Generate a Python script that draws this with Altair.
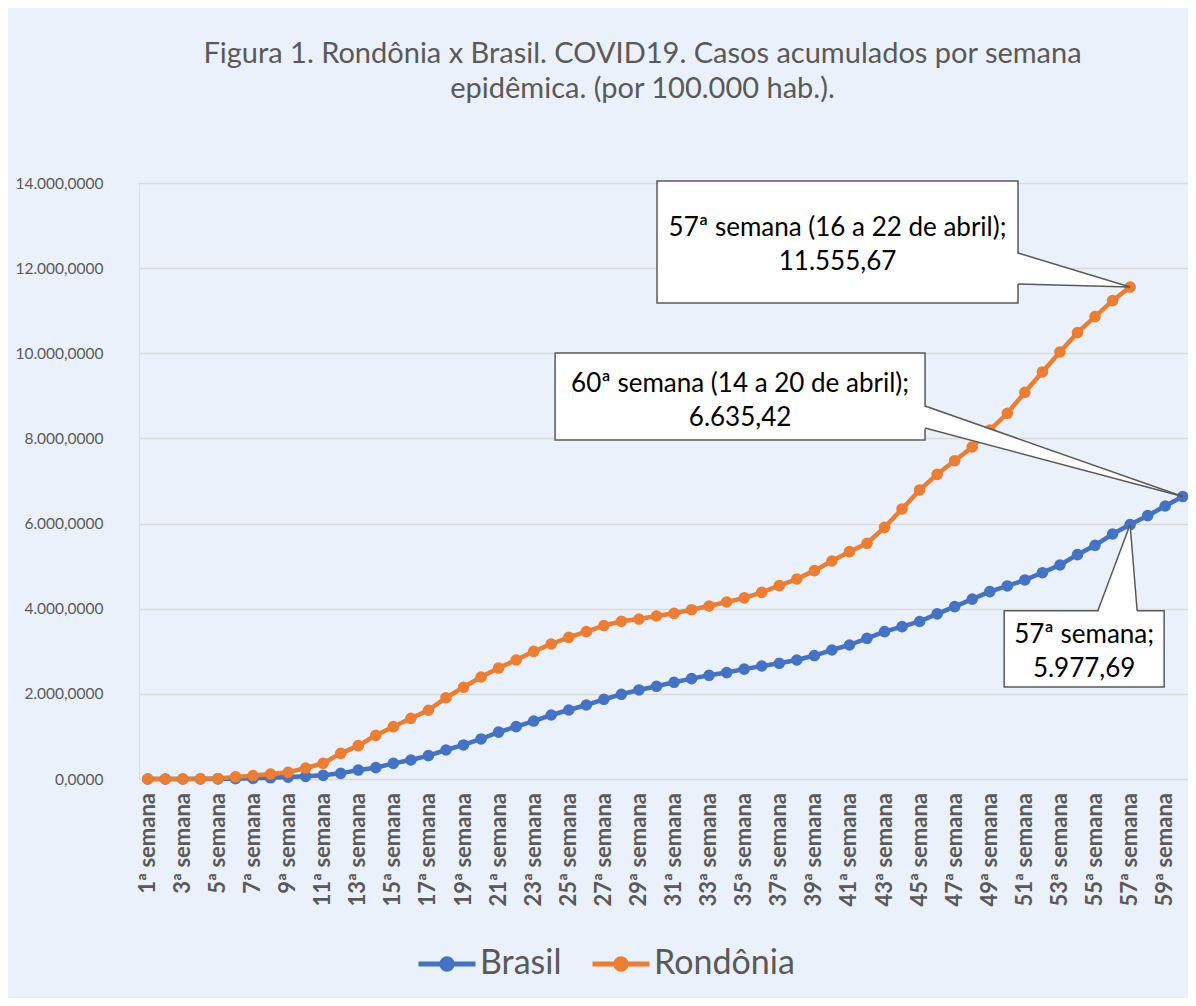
import altair as alt
import pandas as pd

# ---- data ----
series_names = ["Brasil", "Rondônia"]
series_colors = ["#4472C4", "#ED7D31"]

brasil = [0, 0, 0, 1, 3, 8, 15, 28, 45, 62,
          86, 133, 211, 266, 368, 446, 548, 681, 800, 940,
          1100, 1229, 1362, 1503, 1621, 1738, 1872, 1990, 2091, 2178,
          2272, 2357, 2436, 2500, 2580, 2654, 2718, 2795, 2900, 3030,
          3148, 3305, 3461, 3578, 3700, 3880, 4050, 4225, 4400, 4534,
          4675, 4846, 5027, 5270, 5490, 5755, 5977.69, 6186, 6413, 6635.42]

rondonia = [0, 0, 0, 5, 12, 50, 78, 117, 157, 258,
            369, 603, 783, 1026, 1229, 1425, 1615, 1910, 2154, 2396,
            2607, 2795, 2999, 3171, 3328, 3461, 3602, 3704, 3758, 3829,
            3892, 3977, 4064, 4158, 4255, 4386, 4541, 4698, 4894, 5121,
            5340, 5537, 5912, 6343, 6789, 7157, 7477, 7800, 8198, 8590,
            9084, 9561, 10031, 10484, 10860, 11236, 11555.67]

tick_weeks = list(range(1, 60, 2))
tick_labels = [f"{w}ª semana" for w in tick_weeks]
y_ticks = list(range(0, 14001, 2000))

title_lines = ["Figura 1. Rondônia x Brasil. COVID19. Casos acumulados por semana",
               "epidêmica. (por 100.000 hab.)."]

# annotations (data coordinates: week, value)
ann_text = ["57ª semana (16 a 22 de abril);\n11.555,67",
            "60ª semana (14 a 20 de abril);\n6.635,42",
            "57ª semana;\n5.977,69"]
ann_box_x = [30.03, 24.22, 49.82]
ann_box_x2 = [50.61, 45.31, 58.94]
ann_box_y = [14047, 10007, 3953]
ann_box_y2 = [11181, 7963, 2161]
ann_text_y = [12943, 9280, 3383]   # first text line
ann_target_week = [57, 60, 57]
ann_target_val = [11555.67, 6635.42, 5977.69]

# ---- tables ----
rows = []
for i, v in enumerate(brasil):
    rows.append({"semana": i + 1, "valor": v, "serie": "Brasil"})
for i, v in enumerate(rondonia):
    rows.append({"semana": i + 1, "valor": v, "serie": "Rondônia"})
df = pd.DataFrame(rows)

ticks_df = pd.DataFrame({"semana": tick_weeks, "rotulo": tick_labels})

boxes = pd.DataFrame({
    "x": ann_box_x, "x2": ann_box_x2, "y": ann_box_y, "y2": ann_box_y2,
    "tx": [(a + b) / 2 for a, b in zip(ann_box_x, ann_box_x2)],
    "ty": ann_text_y, "label": ann_text,
})

# wedges from the right edge of boxes 1 and 2
wedge_v = pd.DataFrame([
    {"id": "a", "x": 50.45, "y": 12356, "y2": 11628},
    {"id": "a", "x": ann_target_week[0], "y": ann_target_val[0], "y2": ann_target_val[0]},
    {"id": "b", "x": 45.15, "y": 8762, "y2": 8245},
    {"id": "b", "x": ann_target_week[1], "y": ann_target_val[1], "y2": ann_target_val[1]},
])
# wedge from the top edge of box 3
wedge_h = pd.DataFrame([
    {"id": "c", "y": 3900, "x": 55.16, "x2": 57.40},
    {"id": "c", "y": ann_target_val[2], "x": ann_target_week[2], "x2": ann_target_week[2]},
])
wedge_lines = pd.DataFrame([
    {"x": 50.61, "y": 12356, "x2": 57, "y2": 11555.67},
    {"x": 50.61, "y": 11628, "x2": 57, "y2": 11555.67},
    {"x": 45.31, "y": 8762, "x2": 60, "y2": 6635.42},
    {"x": 45.31, "y": 8245, "x2": 60, "y2": 6635.42},
    {"x": 55.16, "y": 3953, "x2": 57, "y2": 5977.69},
    {"x": 57.40, "y": 3953, "x2": 57, "y2": 5977.69},
])

FONT = "Lato"
GRAY = "#595959"

x_scale = alt.Scale(domain=[0.5, 60.3], nice=False, zero=False)
y_scale = alt.Scale(domain=[0, 14000], nice=False)
color_scale = alt.Scale(domain=series_names, range=series_colors)

x_axis = alt.Axis(labels=False, domain=False, ticks=False, grid=False, title=None)
y_axis = alt.Axis(values=y_ticks, format=",.4f", labelFontSize=15.5,
                  labelColor=GRAY, labelFont=FONT, labelPadding=36,
                  domain=False, ticks=False, grid=True, gridColor="#D9D9D9",
                  gridWidth=1.5, title=None)

legend = alt.Legend(orient="none", legendX=277, legendY=750, direction="horizontal",
                    title=None, labelFontSize=34, labelFont=FONT, labelColor=GRAY,
                    symbolType="M-1,0L-0.18,0M0.18,0L1,0M-0.18,0A0.18,0.18,0,1,1,0.18,0A0.18,0.18,0,1,1,-0.18,0Z",
                    symbolSize=3249, symbolStrokeWidth=5, columnPadding=20,
                    labelOffset=2)

base = alt.Chart(df).encode(
    x=alt.X("semana:Q", scale=x_scale, axis=x_axis),
    y=alt.Y("valor:Q", scale=y_scale, axis=y_axis),
    color=alt.Color("serie:N", scale=color_scale, legend=legend),
    order="semana:Q",
)
lines = base.mark_line(strokeWidth=4.5)
points = base.mark_circle(size=135, opacity=1)

# category labels under the plot (rotated), one per odd week
tick_text = alt.Chart(ticks_df).mark_text(
    angle=270, align="right", baseline="middle", dx=-14,
    font=FONT, fontSize=22, fontWeight="bold", color=GRAY
).encode(x="semana:Q", y=alt.datum(0), text="rotulo:N")

box_layer = alt.Chart(boxes).mark_rect(fill="white", stroke=GRAY, strokeWidth=1.5).encode(
    x="x:Q", x2="x2:Q", y="y:Q", y2="y2:Q")
wedge_v_layer = alt.Chart(wedge_v).mark_area(color="white", orient="vertical", opacity=1).encode(
    x="x:Q", y="y:Q", y2="y2:Q", detail="id:N")
wedge_h_layer = alt.Chart(wedge_h).mark_area(color="white", orient="horizontal", opacity=1).encode(
    y="y:Q", x="x:Q", x2="x2:Q", detail="id:N")
rule_layer = alt.Chart(wedge_lines).mark_rule(color=GRAY, strokeWidth=1.5).encode(
    x="x:Q", y="y:Q", x2="x2:Q", y2="y2:Q")
text_layer = alt.Chart(boxes).mark_text(font=FONT, fontSize=26, color="black",
                                        lineBreak="\n", lineHeight=34,
                                        align="center", baseline="middle").encode(
    x="tx:Q", y="ty:Q", text="label:N")

chart = alt.layer(lines, points, tick_text, box_layer, wedge_v_layer, wedge_h_layer,
                  rule_layer, text_layer).properties(
    width=1049, height=596,
    padding={"left": 131, "top": 175, "right": 0, "bottom": 219},
    autosize=alt.AutoSizeParams(type="none"),
    background="#EBF1FA",
    title=alt.TitleParams(text=title_lines, fontSize=29, font=FONT, color=GRAY,
                          fontWeight="normal", anchor="middle", frame="group",
                          dx=-21, offset=72, lineHeight=35),
).configure_view(stroke=None).configure(
    locale=alt.Locale(number=alt.NumberLocale(decimal=",", thousands=".",
                                              grouping=[3], currency=["R$", ""]))
)

chart.save("out.html", embed_options={"renderer": "svg", "actions": False})
